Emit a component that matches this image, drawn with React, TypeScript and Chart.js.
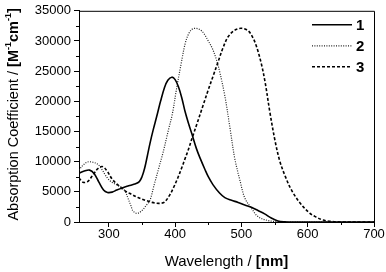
import React, { useEffect, useRef } from "react";
import { Chart, registerables } from "chart.js";

Chart.register(...registerables);

// Series 1 (solid)
const wl1 = [255, 262, 271, 278, 285, 292, 298, 305, 312, 320, 330, 339, 346, 350, 354, 358, 362, 367, 372, 378, 384, 389, 395, 400, 405, 410, 415, 420, 425, 432, 438, 445, 450, 457, 467, 475, 485, 495, 505, 515, 525, 535, 545, 555, 565, 580, 600, 650, 700];
const v1 = [8100, 8400, 8600, 8000, 6600, 5300, 4900, 4950, 5300, 5650, 6000, 6300, 6700, 7500, 8900, 10900, 13000, 15300, 17400, 20000, 22300, 23500, 24000, 23600, 22400, 20600, 18300, 16400, 14700, 12200, 10500, 8700, 7500, 6200, 4800, 4050, 3600, 3240, 2800, 2430, 1900, 1350, 650, 180, 40, 0, 0, 0, 0];

// Series 2 (dotted)
const wl2 = [255, 261, 268, 276, 283, 289, 294, 300, 306, 313, 320, 325, 329, 333, 336, 340, 344, 350, 356, 362, 368, 375, 382, 390, 396, 402, 409, 415, 420, 425, 431, 437, 443, 450, 456, 462, 467, 475, 483, 490, 498, 505, 515, 525, 540, 555, 570, 700];
const v2 = [8600, 9400, 9950, 9900, 9600, 8800, 7900, 7000, 6500, 6100, 5700, 5000, 3900, 2800, 1900, 1500, 1450, 1900, 2700, 3600, 6000, 8800, 11600, 15300, 18000, 22000, 26200, 29500, 31100, 31900, 32100, 31900, 31300, 30000, 28800, 27000, 25000, 20900, 15400, 10500, 6800, 4000, 2300, 900, 250, 50, 0, 0];

// Series 3 (dashed)
const wl3 = [255, 261, 268, 276, 283, 290, 297, 305, 314, 324, 334, 344, 355, 365, 372, 378, 384, 392, 398, 404, 410, 415, 420, 425, 433, 443, 450, 458, 465, 472, 480, 490, 500, 510, 517, 523, 530, 536, 543, 551, 558, 566, 576, 589, 603, 613, 623, 635, 650, 700];
const v3 = [7300, 6600, 6700, 7800, 8800, 9200, 8500, 7100, 6100, 5200, 4600, 4050, 3600, 3250, 3100, 3100, 3300, 4500, 5800, 7300, 9000, 10500, 12000, 13700, 16300, 19600, 21900, 24400, 26600, 28800, 30700, 31800, 32100, 31700, 30600, 29000, 26250, 23000, 18150, 13300, 10050, 7600, 5190, 3080, 1460, 800, 320, 100, 0, 0];

const seriesLabels = ["1", "2", "3"];
const xTicks = [300, 400, 500, 600, 700];
const xMinorTicks = [350, 450, 550, 650];
const yMinorTicks = [2500, 7500, 12500, 17500, 22500, 27500, 32500];

const zip = (xs: number[], ys: number[]) => xs.map((x, i) => ({ x, y: ys[i] }));

const FONT = "'Liberation Sans', Arial, sans-serif";

const styles = [
  { borderWidth: 1.6, borderDash: [] as number[], color: "#000" },
  { borderWidth: 1.2, borderDash: [1, 1.4], color: "#222" },
  { borderWidth: 1.6, borderDash: [3, 2], color: "#000" },
];

const decorPlugin = {
  id: "decor",
  afterDraw(chart: any) {
    const { ctx, chartArea: ca, scales } = chart;
    const xs = scales.x;
    const ys = scales.y;
    ctx.save();
    ctx.strokeStyle = "#000";
    ctx.lineWidth = 1;
    ctx.setLineDash([]);
    ctx.beginPath();
    ctx.moveTo(ca.left, ca.top + 0.5);
    ctx.lineTo(ca.right + 0.5, ca.top + 0.5);
    ctx.lineTo(ca.right + 0.5, ca.bottom);
    ctx.stroke();
    ctx.beginPath();
    yMinorTicks.forEach((v) => {
      const y = Math.round(ys.getPixelForValue(v)) + 0.5;
      ctx.moveTo(ca.left - 3, y);
      ctx.lineTo(ca.left, y);
    });
    xMinorTicks.forEach((v) => {
      const x = Math.round(xs.getPixelForValue(v)) + 0.5;
      ctx.moveTo(x, ca.bottom);
      ctx.lineTo(x, ca.bottom + 3);
    });
    ctx.stroke();

    const lx0 = ca.right - 62;
    const lx1 = ca.right - 22;
    seriesLabels.forEach((lab, i) => {
      const y = ca.top + 14 + i * 21;
      const st = styles[i];
      ctx.strokeStyle = st.color;
      ctx.lineWidth = st.borderWidth;
      ctx.setLineDash(st.borderDash);
      ctx.beginPath();
      ctx.moveTo(lx0, y);
      ctx.lineTo(lx1, y);
      ctx.stroke();
      ctx.setLineDash([]);
      ctx.fillStyle = "#000";
      ctx.font = `bold 15px ${FONT}`;
      ctx.textAlign = "left";
      ctx.textBaseline = "middle";
      ctx.fillText(lab, lx1 + 4, y + 1);
    });

    const drawSegs = (segs: { t: string; f: string; dy?: number }[], cx: number, cy: number) => {
      let total = 0;
      segs.forEach((s) => {
        ctx.font = s.f;
        total += ctx.measureText(s.t).width;
      });
      let x = cx - total / 2;
      ctx.textAlign = "left";
      ctx.textBaseline = "middle";
      segs.forEach((s) => {
        ctx.font = s.f;
        ctx.fillText(s.t, x, cy + (s.dy || 0));
        x += ctx.measureText(s.t).width;
      });
    };
    ctx.fillStyle = "#000";
    drawSegs(
      [
        { t: "Wavelength / ", f: `15px ${FONT}` },
        { t: "[nm]", f: `bold 15px ${FONT}` },
      ],
      (ca.left + ca.right) / 2,
      262
    );
    ctx.translate(14, (ca.top + ca.bottom) / 2 - 2);
    ctx.rotate(-Math.PI / 2);
    drawSegs(
      [
        { t: "Absorption Coefficient / ", f: `14.5px ${FONT}` },
        { t: "[M", f: `bold 14.5px ${FONT}` },
        { t: "-1", f: `bold 9px ${FONT}`, dy: -5 },
        { t: "cm", f: `bold 14.5px ${FONT}` },
        { t: "-1", f: `bold 9px ${FONT}`, dy: -5 },
        { t: "]", f: `bold 14.5px ${FONT}` },
      ],
      0,
      0
    );
    ctx.restore();
  },
};

export default function App() {
  const ref = useRef<HTMLCanvasElement>(null);
  useEffect(() => {
    if (!ref.current) return;
    const data = [zip(wl1, v1), zip(wl2, v2), zip(wl3, v3)];
    const chart = new Chart(ref.current, {
      type: "line",
      data: {
        datasets: data.map((d, i) => ({
          label: seriesLabels[i],
          data: d,
          borderColor: styles[i].color,
          borderWidth: styles[i].borderWidth,
          borderDash: styles[i].borderDash,
          pointRadius: 0,
          fill: false,
          tension: 0.35,
        })),
      },
      options: {
        animation: false,
        responsive: false,
        maintainAspectRatio: false,
        layout: { padding: { left: 0, right: 12, top: 6, bottom: 0 } },
        plugins: { legend: { display: false }, tooltip: { enabled: false } },
        scales: {
          x: {
            type: "linear",
            min: 255,
            max: 700,
            afterBuildTicks: (s: any) => {
              s.ticks = xTicks.map((v) => ({ value: v }));
            },
            afterFit: (s: any) => {
              s.height = 50;
            },
            grid: { drawOnChartArea: false, drawTicks: true, tickLength: 5, color: "#000" },
            border: { color: "#000", width: 1 },
            ticks: { color: "#000", font: { family: FONT, size: 13 }, padding: 0, maxRotation: 0 },
          },
          y: {
            min: 0,
            max: 35000,
            ticks: {
              stepSize: 5000,
              color: "#000",
              font: { family: FONT, size: 13 },
              padding: 3,
              callback: (v: any) => String(v),
            },
            afterFit: (s: any) => {
              s.width = 79;
            },
            grid: { drawOnChartArea: false, drawTicks: true, tickLength: 5, color: "#000" },
            border: { color: "#000", width: 1 },
          },
        },
      },
      plugins: [decorPlugin],
    });
    return () => chart.destroy();
  }, []);
  return (
    <div style={{ position: "fixed", left: 0, top: 0, width: 386, height: 272, background: "#fff" }}>
      <canvas ref={ref} width={386} height={272} style={{ width: 386, height: 272 }} />
    </div>
  );
}
